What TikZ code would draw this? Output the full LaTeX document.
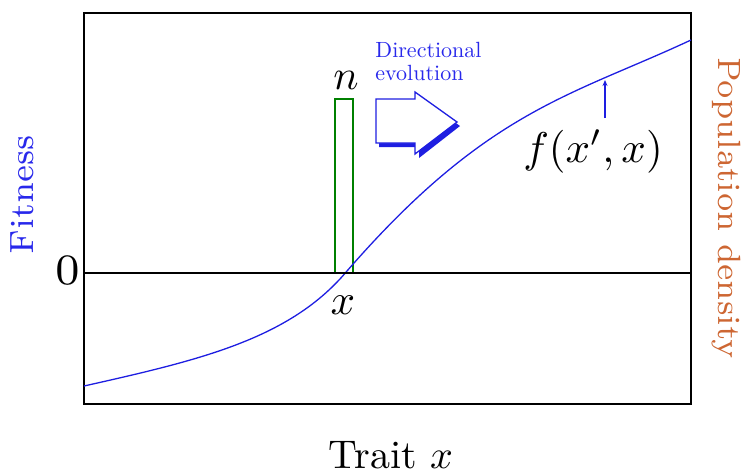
\documentclass[tikz,border=0pt]{standalone}
\usetikzlibrary{arrows.meta}
\definecolor{cblue}{RGB}{30,30,225}
\definecolor{tblue}{RGB}{40,40,235}
\definecolor{corange}{RGB}{205,102,50}
\definecolor{cgreen}{RGB}{0,128,0}
\begin{document}
\begin{tikzpicture}[x=1pt,y=-1pt,
  lbl/.style={inner sep=0pt,anchor=base},
  frameline/.style={line width=1.4pt,black},
  curveline/.style={line width=1.3pt,cblue}]
\useasboundingbox (0,0) rectangle (743,475);
% frame
\draw[frameline] (84,13) rectangle (691,404);
\coordinate (zl) at (84,273);
\coordinate (zr) at (691,273);
% green bar
\draw[cgreen,line width=2pt] (335,273) rectangle (353,99);
\node[lbl,scale=4.2] (n) at (346,89) {$n$};
% curve
\coordinate (c0) at (84,386);
\coordinate (c1) at (347,271);
\coordinate (c2) at (691,40);
\draw[curveline] (c0) .. controls (200,360) and (290,339) .. (c1)
  .. controls (487,110) and (571,96) .. (c2);
\draw[line width=2.4pt] (zl) -- (zr);
% f annotation
\coordinate (fs) at (605,118);
\coordinate (fe) at (605,80);
\draw[cblue,line width=1.2pt,-{Stealth[length=6pt,width=5pt]}] (fs) -- (fe);
\node[lbl,scale=4.3] (f) at (593,162) {$f(x',x)$};
% fat arrow with shadow
\fill[cblue] (379,103) -- (419,103) -- (419,96) -- (460,126) -- (419,158) -- (419,147) -- (379,147) -- cycle;
\draw[cblue,line width=1.3pt,fill=white] (376,99) -- (415,99) -- (415,92) -- (457,122) -- (415,154) -- (415,143) -- (376,143) -- cycle;
\node[lbl,anchor=base west,text=tblue,scale=2.2] (d1) at (375,57) {Directional};
\node[lbl,anchor=base west,text=tblue,scale=2.2] (d2) at (375,80) {evolution};
% labels
\node[lbl,scale=6.2,font=\fontsize{7}{8}\selectfont] (zero) at (68,284) {0};
\node[lbl,scale=4.3] (x) at (343,314) {$x$};
\node[lbl,text=tblue,rotate=90,scale=4.8,font=\fontsize{7}{8}\selectfont] (fit) at (33,194.5) {Fitness};
\node[lbl,text=corange,rotate=-90,scale=4.6,font=\fontsize{7}{8}\selectfont] (pop) at (718,208) {Population density};
\node[lbl,scale=4.0] (trait) at (391,468) {Trait $x$};
\end{tikzpicture}
\end{document}
